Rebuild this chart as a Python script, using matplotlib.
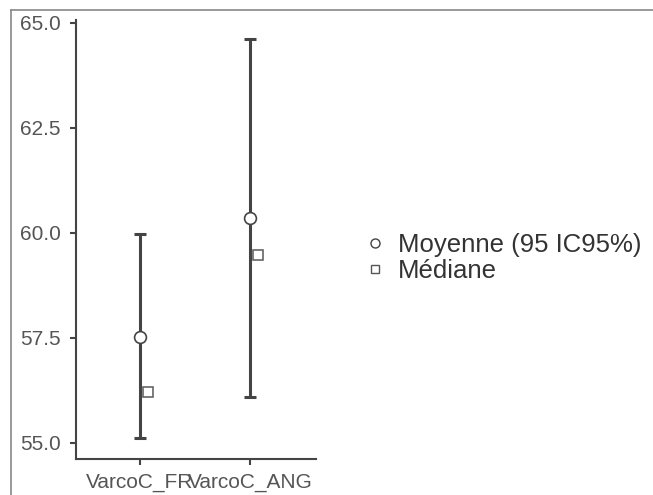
import matplotlib
matplotlib.use("Agg")
import matplotlib.pyplot as plt
from matplotlib.lines import Line2D

plt.rcParams['font.family'] = ['Liberation Sans', 'DejaVu Sans']

categories = ["VarcoC_FR", "VarcoC_ANG"]
means = [57.52, 60.36]
ci_low = [55.10, 56.08]
ci_high = [59.97, 64.62]
medians = [56.20, 59.47]
yticks = [55.0, 57.5, 60.0, 62.5, 65.0]

W, H = 653, 495
fig = plt.figure(figsize=(W / 100, H / 100), dpi=100)

# outer frame (top and left edges visible)
fig.add_artist(Line2D([11 / W, 11 / W], [0, 1 - 10 / H], transform=fig.transFigure,
                      color="#888888", lw=1.2))
fig.add_artist(Line2D([11 / W, 1], [1 - 10 / H, 1 - 10 / H], transform=fig.transFigure,
                      color="#888888", lw=1.2))

ax = fig.add_axes([76 / W, 36 / H, 240 / W, 439 / H])
x = list(range(len(categories)))
err_lo = [m - l for m, l in zip(means, ci_low)]
err_hi = [h - m for m, h in zip(means, ci_high)]
ax.errorbar(x, means, yerr=[err_lo, err_hi], fmt="none", ecolor="#444444",
            elinewidth=2.2, capsize=4.5, capthick=2.2, zorder=2)
ax.plot(x, means, linestyle="none", marker="o", markersize=8.5,
        markerfacecolor="white", markeredgecolor="#444444", markeredgewidth=1.2, zorder=3)
ax.plot([xi + 0.07 for xi in x], medians, linestyle="none", marker="s", markersize=7,
        markerfacecolor="white", markeredgecolor="#666666", markeredgewidth=1.2, zorder=3)

ax.set_xlim(-0.582, 1.6)
ax.set_ylim(54.61, 65.07)
ax.set_xticks(x)
ax.set_xticklabels(categories)
ax.set_yticks(yticks)
ax.set_yticklabels([f"{v:.1f}" for v in yticks])
for s in ["top", "right"]:
    ax.spines[s].set_visible(False)
for s in ["left", "bottom"]:
    ax.spines[s].set_color("#444444")
    ax.spines[s].set_linewidth(1.5)
ax.tick_params(axis="both", colors="#444444", labelcolor="#555555", labelsize=15,
               length=4, width=1.5)
ax.tick_params(axis="y", pad=7)
ax.tick_params(axis="x", pad=6)

handles = [
    Line2D([], [], linestyle="none", marker="o", markersize=6.5,
           markerfacecolor="white", markeredgecolor="#444444", markeredgewidth=1.0),
    Line2D([], [], linestyle="none", marker="s", markersize=6,
           markerfacecolor="white", markeredgecolor="#555555", markeredgewidth=1.0),
]
fig.legend(handles, ["Moyenne (95 IC95%)", "Médiane"], loc="upper left",
           bbox_to_anchor=(362 / W, 1 - 233 / H), frameon=False, fontsize=18.5,
           labelcolor="#333333", handlelength=1.0, handletextpad=0.4,
           labelspacing=0.08, borderaxespad=0, borderpad=0)

fig.savefig("out.png", dpi=100)
